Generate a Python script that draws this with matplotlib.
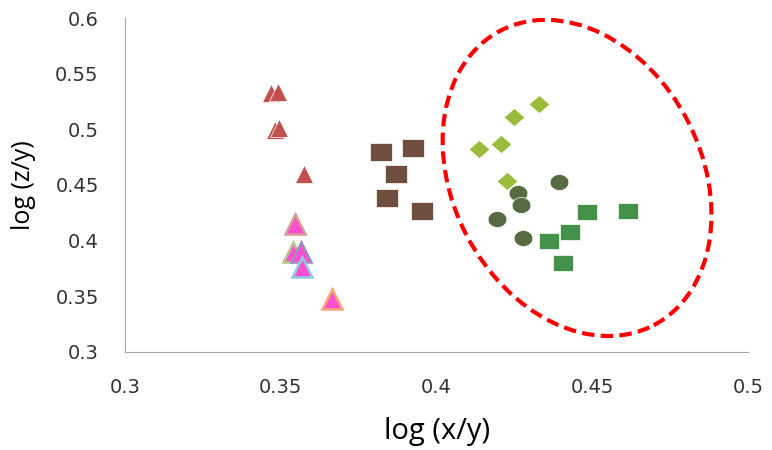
import numpy as np
import matplotlib.pyplot as plt
from matplotlib.patches import Ellipse
from matplotlib.transforms import ScaledTranslation


# values
red_tri_x = [0.3468, 0.3492, 0.3482, 0.3495, 0.3575]
red_tri_y = [0.5326, 0.5335, 0.4994, 0.5009, 0.4599]

pink_tri_x = [0.3546, 0.3540, 0.3564, 0.3567, 0.3664]
pink_tri_y = [0.4147, 0.3901, 0.3901, 0.3761, 0.3473]
pink_edges = ['#d49c96', '#b3c98a', '#a08cc0', '#8ecbe2', '#f8a878']

brown_sq_x = [0.3821, 0.3924, 0.3870, 0.3842, 0.3952]
brown_sq_y = [0.4799, 0.4830, 0.4599, 0.4381, 0.4269]

diamond_x = [0.4137, 0.4207, 0.4249, 0.4330, 0.4227]
diamond_y = [0.4823, 0.4871, 0.5108, 0.5228, 0.4536]

circle_x = [0.4393, 0.4260, 0.4271, 0.4193, 0.4279]
circle_y = [0.4530, 0.4432, 0.4318, 0.4192, 0.4021]

green_sq_x = [0.4482, 0.4614, 0.4429, 0.4360, 0.4405]
green_sq_y = [0.4260, 0.4269, 0.4081, 0.4000, 0.3802]

x_ticks = [0.3, 0.35, 0.4, 0.45, 0.5]
y_ticks = [0.3, 0.35, 0.4, 0.45, 0.5, 0.55, 0.6]

# the picture is a bit stretched sideways, so markers are wider than tall
t = np.linspace(0, 2 * np.pi, 60)
oval = np.column_stack([np.cos(t), 0.85 * np.sin(t)])
rect = [(-1, -0.85), (1, -0.85), (1, 0.85), (-1, 0.85), (-1, -0.85)]
rhomb = [(0, -0.87), (1, 0), (0, 0.87), (-1, 0), (0, -0.87)]

fig = plt.figure(figsize=(7.72, 4.5), dpi=100)
ax = fig.add_axes([0.162, 0.218, 0.807, 0.742])

ax.plot(red_tri_x, red_tri_y, linestyle='none', marker='^', ms=13,
        color='#c0504d', mec='white', mew=0.5)
for x, y, ec in zip(pink_tri_x, pink_tri_y, pink_edges):
    ax.plot([x], [y], linestyle='none', marker='^', ms=14.5,
            color='#ff4fd0', mec=ec, mew=1.8)
ax.plot(brown_sq_x, brown_sq_y, linestyle='none', marker=rect, ms=16,
        color='#6f4e3f', mec='white', mew=0.5)
ax.plot(diamond_x, diamond_y, linestyle='none', marker=rhomb, ms=15,
        color='#9bbb3b', mec='white', mew=0.5)
ax.plot(circle_x, circle_y, linestyle='none', marker=oval, ms=13.5,
        color='#566b42', mec='white', mew=0.5)
ax.plot(green_sq_x, green_sq_y, linestyle='none', marker=rect, ms=14,
        color='#44924a', mec='white', mew=0.5)

ax.set_xlim(0.3, 0.5)
ax.set_ylim(0.3, 0.6)
ax.set_xticks(x_ticks)
ax.set_xticklabels([f'{v:g}' for v in x_ticks])
ax.set_yticks(y_ticks)
ax.set_yticklabels([f'{v:g}' for v in y_ticks])

# dashed ring drawn in screen units around its centre
ring = Ellipse((0, 0), 2.49, 3.32, angle=27.5, fill=False,
               edgecolor='#ff0000', lw=3, linestyle=(0, (3, 1.5)),
               transform=fig.dpi_scale_trans
               + ScaledTranslation(0.4451, 0.4563, ax.transData))
ax.add_patch(ring)

for side in ['top', 'right']:
    ax.spines[side].set_visible(False)
for side in ['left', 'bottom']:
    ax.spines[side].set_color('#a6a6a6')
ax.tick_params(length=0, labelsize=14, labelcolor='#333333')
ax.tick_params(axis='y', pad=19)
ax.tick_params(axis='x', pad=19)

ax.set_xlabel('log (x/y)', fontsize=21, family='Open Sans', labelpad=14)
ax.set_ylabel('log (z/y)', fontsize=18, family='Open Sans', labelpad=14)

fig.savefig('out.png', dpi=100)
